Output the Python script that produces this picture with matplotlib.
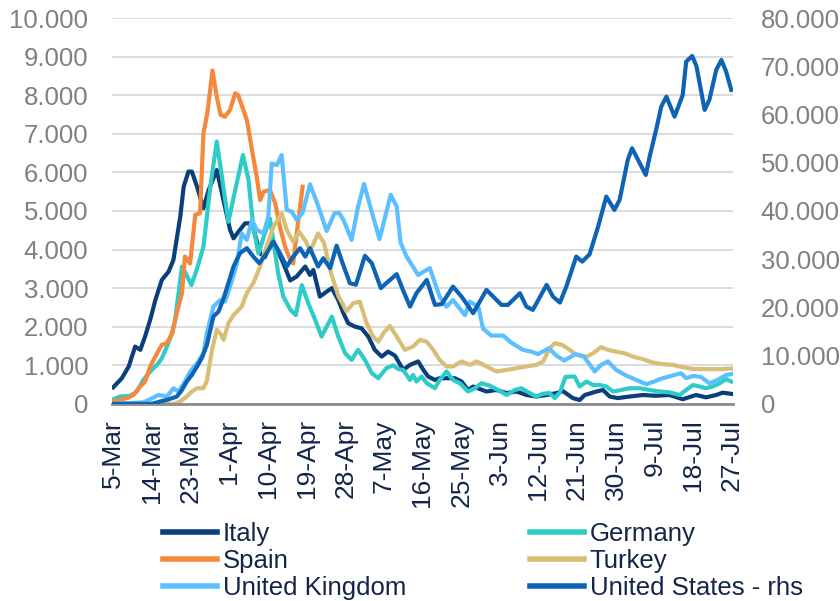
import matplotlib
matplotlib.use("Agg")
import matplotlib.pyplot as plt
from matplotlib.ticker import FuncFormatter

plt.rcParams['font.family'] = ['Liberation Sans', 'DejaVu Sans']

# days since 5-Mar, daily new cases
italy_day = [0, 2, 3.6, 5.1, 6.3, 7.4, 8.6, 9.8, 11.3, 12.9, 14, 15.6, 16.4, 17.5, 18.3, 19.5, 21, 22.2, 24.1,
             25.3, 27.2, 28, 29.5, 30.7, 32.3, 34.2, 35.3, 36.8, 38.4, 39.6, 41.2, 42.7, 44.7, 45.8, 46.6, 48.1,
             49.7, 50.9, 52.4, 53.6, 54.7, 56.3, 57.8, 59.4, 60.9, 62.5, 64, 65.6, 67.5, 69.1, 71, 72.2, 73.3, 74.9,
             76, 79.5, 81.1, 82.6, 83.8, 86.9, 89.2, 91.6, 93.9, 96.2, 98.5, 100.9, 103.2, 104.7, 107, 108.6,
             109.8, 112.5, 114, 115.6, 117.5, 120.2, 123.3, 126.4, 129.5, 132.6, 135.7, 138, 140.4, 141.9, 143.9]
italy_val = [430, 665, 970, 1485, 1400, 1745, 2180, 2690, 3210, 3430, 3730, 4850, 5630, 6020, 6020, 5630, 5070,
             5540, 6060, 5460, 4510, 4290, 4510, 4680, 4680, 3900, 3800, 4200, 3950, 3640, 3200, 3300, 3560, 3340,
             3470, 2780, 2910, 3000, 2690, 2350, 2090, 2000, 1960, 1740, 1400, 1225, 1355, 1250, 880, 1010, 1100,
             880, 710, 620, 665, 665, 580, 360, 450, 320, 360, 280, 320, 230, 190, 230, 280, 330, 150, 100, 230,
             320, 360, 190, 150, 190, 230, 210, 230, 120, 230, 170, 230, 290, 260]

germany_day = [0, 1.6, 4, 5.5, 7, 8.6, 10.2, 11.3, 12.5, 13.7, 14.4, 16, 16.8, 18.2, 19.5, 21, 22.6, 24.1, 25.3,
               26.8, 28.4, 30.2, 31.5, 32.6, 33.8, 35.3, 36.5, 38.4, 39.6, 41.2, 42.5, 43.9, 45.4, 47, 48.5, 50.9,
               52.4, 54, 55.5, 57, 58.6, 60.2, 61.7, 63.6, 65.2, 66.4, 67.5, 69.1, 69.8, 70.6, 71.8, 73, 74.9, 76,
               77.6, 79.1, 80.7, 82.6, 84.2, 85.7, 87.5, 89.6, 91.6, 93.5, 95, 97, 98.5, 100, 101.6, 102.8, 104,
               105.3, 107.4, 108.6, 110.2, 111.7, 113.3, 114.8, 116.4, 118.3, 120.2, 122.6, 124.9, 127.2, 129.5,
               131.9, 133.4, 135, 136.5, 138, 139.6, 141.2, 142.7, 143.9]
germany_val = [120, 190, 210, 320, 620, 840, 1010, 1180, 1485, 1830, 2180, 3560, 3400, 3080, 3500, 4075, 5630,
               6800, 5890, 4720, 5540, 6450, 5800, 4590, 3900, 4420, 4800, 3390, 2780, 2450, 2300, 3080, 2610,
               2180, 1745, 2260, 1745, 1310, 1140, 1400, 1140, 795, 665, 925, 1000, 900, 880, 620, 750, 580, 710,
               535, 405, 620, 840, 620, 535, 320, 405, 535, 480, 360, 230, 360, 405, 280, 190, 260, 280, 150, 300,
               700, 710, 450, 580, 490, 490, 450, 320, 360, 405, 405, 360, 320, 300, 230, 360, 490, 450, 405, 450,
               535, 640, 580]

spain_day = [0, 3.2, 4.7, 5.9, 7.4, 8.6, 10.2, 11.3, 12.5, 13.7, 14.8, 15.6, 16, 16.7, 17.9, 19.1, 20.2, 21,
             21.9, 23.1, 24.1, 25, 26, 27.2, 28.4, 29.1, 31.1, 32.3, 33.4, 34.2, 35, 36.5, 37.7, 38.8, 40, 41.2,
             41.9, 42.9, 44.1]
spain_val = [60, 150, 230, 405, 580, 970, 1310, 1530, 1570, 1830, 2350, 2690, 2870, 3820, 3640, 4900, 4940,
             7010, 7530, 8640, 7960, 7490, 7440, 7620, 8050, 8000, 7360, 6580, 5890, 5280, 5500, 5540, 5200, 4590,
             4075, 3730, 3640, 4590, 5630]

turkey_day = [0, 14, 15.6, 17.1, 18.3, 19.5, 21, 21.8, 23, 24.1, 24.9, 25.7, 26.8, 28, 28.8, 29.9, 31.1, 32.6,
              34.2, 35.7, 37.3, 39.2, 40.4, 41.9, 43.3, 44.9, 45.8, 47.7, 49.1, 50.7, 52.4, 54.3, 55.9, 57.4, 59,
              60.5, 61.7, 62.9, 64.4, 66, 67.9, 69.8, 71.4, 73, 74.5, 76, 77.6, 79.1, 81.1, 83, 84.6, 86.9, 89.2,
              91.6, 93.9, 96.2, 98.5, 100.1, 101.6, 102.8, 104.5, 106.3, 107.8, 110.2, 111.7, 113.6, 115.2, 117.1,
              119.1, 121, 123.3, 125.7, 128, 130.3, 132.6, 135, 138, 141.2, 143.9]
turkey_val = [0, 0, 60, 190, 320, 405, 405, 600, 1400, 1920, 1830, 1660, 2090, 2300, 2390, 2520, 2870, 3130,
              3560, 4075, 4590, 4940, 4510, 4200, 4460, 4200, 3950, 4420, 4160, 3390, 2800, 2400, 2610, 2650,
              2090, 1745, 1610, 1830, 2020, 1745, 1400, 1485, 1660, 1610, 1400, 1140, 970, 970, 1100, 1010, 1100,
              970, 840, 880, 925, 970, 1010, 1100, 1440, 1570, 1530, 1400, 1270, 1225, 1310, 1470, 1400, 1355,
              1310, 1225, 1160, 1070, 1030, 1010, 950, 905, 900, 900, 915]

uk_day = [0, 7, 8.6, 10.5, 12.5, 14, 15.2, 16.7, 17.9, 19.5, 21, 21.8, 23.3, 24.9, 26, 27.2, 28.8, 29.9, 31.1,
          32.3, 33.4, 35, 36.1, 36.9, 38.1, 39.2, 40.4, 41.6, 42.7, 44.1, 45.8, 47.5, 49.7, 51.5, 52.6, 53.6, 55.5,
          57, 58.4, 60.5, 62, 64.6, 66, 66.9, 68.3, 71, 73.7, 76, 77.6, 79.1, 81.9, 83, 85, 86.1, 88, 90.8, 92.5,
          95.4, 97.3, 98.9, 101.4, 103.2, 105, 107.6, 109.6, 112.1, 113.6, 115.2, 117.1, 119.5, 121.8, 124.1, 126,
          127.2, 130.7, 132.2, 133.4, 135, 136.8, 138.8, 140.7, 142.7, 143.9]
uk_val = [0, 40, 120, 230, 190, 405, 320, 580, 840, 1050, 1310, 1830, 2520, 2690, 2650, 3040, 3640, 4420, 4250,
          4770, 4510, 4420, 4850, 6230, 6190, 6450, 5030, 4980, 4770, 4960, 5690, 5200, 4480, 4940, 4950, 4770,
          4250, 5110, 5700, 4850, 4270, 5420, 5110, 4180, 3820, 3340, 3520, 2780, 2520, 2690, 2300, 2650, 2520,
          1950, 1770, 1770, 1600, 1400, 1355, 1290, 1440, 1250, 1120, 1290, 1225, 840, 1010, 1100, 880, 730, 620,
          510, 580, 640, 750, 795, 665, 725, 700, 535, 620, 750, 770]

us_day = [0, 9, 10.9, 12.5, 13.7, 14.8, 16, 17.1, 18.3, 19.5, 20.6, 21.8, 23.3, 24.5, 25.7, 26.8, 28, 29.5, 31.1,
          32.6, 34, 35.7, 37.3, 38.8, 40.4, 41.9, 43.5, 44.7, 45.8, 47.7, 48.9, 50.5, 52, 53.4, 55.1, 56.5, 58.6,
          60.2, 62.3, 64, 66, 67.5, 69.1, 70.6, 73, 74.9, 76.5, 79.1, 81.1, 83.8, 86.9, 90.4, 91.9, 94.7, 96.2,
          97.7, 100.9, 102.4, 104, 105.5, 107.8, 109.2, 110.9, 112.9, 114.8, 116.7, 117.9, 119.8, 120.8, 122.6,
          124, 124.9, 126.4, 127.6, 128.8, 130.7, 132.6, 133.4, 134.8, 135.8, 137.7, 138.8, 140.4, 141.6, 142.7,
          143.9]
us_val = [0, 0, 480, 830, 1180, 1510, 2900, 4620, 6010, 7730, 9470, 12200, 18100, 19130, 21910, 25020, 28470,
          31240, 32280, 30540, 29170, 31240, 33640, 31240, 28470, 30540, 32280, 30540, 32280, 28470, 30200, 28130,
          32800, 29170, 25020, 24700, 30700, 29170, 24000, 25360, 26900, 23500, 20170, 22950, 25710, 20520, 20700,
          24320, 22240, 18800, 23630, 20520, 20520, 22950, 20170, 19490, 24670, 22240, 21000, 24320, 30540, 29500,
          31000, 36750, 42970, 40220, 42290, 50580, 53000, 49900, 47470, 51270, 56800, 61630, 63700, 59560, 64060,
          70960, 72140, 70000, 60950, 63020, 69240, 71310, 68890, 65090]

tick_days = [0, 9, 18, 27, 36, 45, 54, 63, 72, 81, 90, 99, 108, 117, 126, 135, 144]
tick_labels = ['5-Mar', '14-Mar', '23-Mar', '1-Apr', '10-Apr', '19-Apr', '28-Apr', '7-May', '16-May',
               '25-May', '3-Jun', '12-Jun', '21-Jun', '30-Jun', '9-Jul', '18-Jul', '27-Jul']

c_italy = '#0a3f7c'
c_germany = '#2fcbc8'
c_spain = '#f5883a'
c_turkey = '#d8bf78'
c_uk = '#5cbfff'
c_us = '#0e63b5'
grey = '#808080'
navy = '#14254a'
lw = 3.0

fig = plt.figure(figsize=(8.4, 6.01), dpi=100)
ax = fig.add_axes([0.1333, 0.328, 0.7393, 0.642])
ax2 = ax.twinx()

l_it, = ax.plot(italy_day, italy_val, color=c_italy, lw=lw, solid_joinstyle='round', label='Italy')
l_de, = ax.plot(germany_day, germany_val, color=c_germany, lw=lw, solid_joinstyle='round', label='Germany')
l_es, = ax.plot(spain_day, spain_val, color=c_spain, lw=lw, solid_joinstyle='round', label='Spain')
l_tr, = ax.plot(turkey_day, turkey_val, color=c_turkey, lw=lw, solid_joinstyle='round', label='Turkey')
l_uk, = ax.plot(uk_day, uk_val, color=c_uk, lw=lw, solid_joinstyle='round', label='United Kingdom')
l_us, = ax2.plot(us_day, us_val, color=c_us, lw=lw, solid_joinstyle='round', label='United States - rhs')

ax.set_ylim(0, 10000)
ax2.set_ylim(0, 80000)
ax.set_yticks(range(0, 10001, 1000))
ax2.set_yticks(range(0, 80001, 10000))
ax.set_xlim(-0.3, 144.3)

fmt = FuncFormatter(lambda v, p: '{:,.0f}'.format(v).replace(',', '.'))
ax.yaxis.set_major_formatter(fmt)
ax2.yaxis.set_major_formatter(fmt)

ax.grid(axis='y', color='#d9d9d9', lw=1.3)
ax.set_axisbelow(True)
for a in (ax, ax2):
    for s in ['top', 'left', 'right']:
        a.spines[s].set_visible(False)
ax.spines['bottom'].set_color('#8c8c8c')
ax.spines['bottom'].set_linewidth(2)
ax2.spines['bottom'].set_visible(False)

ax.tick_params(axis='y', length=0, labelsize=18.5, labelcolor=grey, pad=17)
ax2.tick_params(axis='y', length=0, labelsize=18.5, labelcolor=grey, pad=20)
ax.set_xticks(tick_days)
ax.set_xticklabels(tick_labels, rotation=90)
ax.tick_params(axis='x', length=0, labelsize=19, labelcolor=navy, pad=11)

handles = [l_it, l_es, l_uk, l_de, l_tr, l_us]
leg = fig.legend(handles, [h.get_label() for h in handles], ncol=2, loc='center',
                 bbox_to_anchor=(0.575, 0.067), frameon=False, fontsize=18.5,
                 handlelength=2.1, handletextpad=0.2, columnspacing=4.85, labelspacing=0.12)
for t in leg.get_texts():
    t.set_color(navy)
for h in leg.get_lines():
    h.set_linewidth(4)

fig.savefig('out.png', dpi=100)
